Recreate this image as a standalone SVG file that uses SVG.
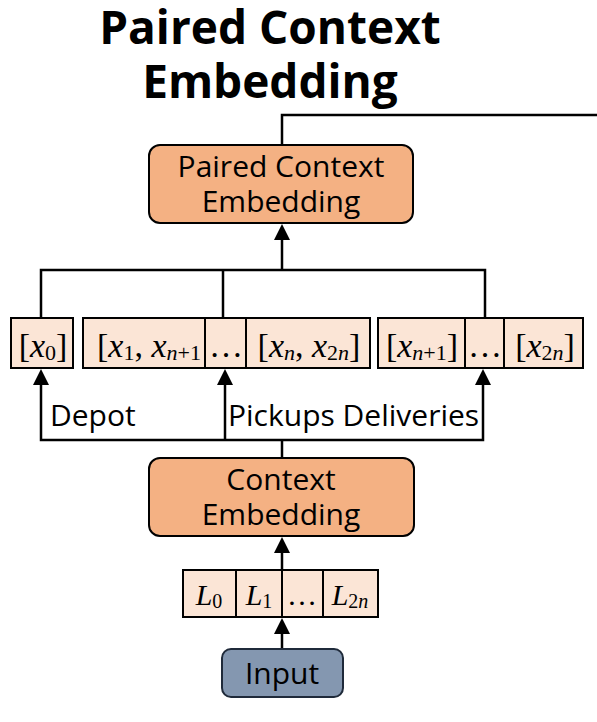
<svg xmlns="http://www.w3.org/2000/svg" width="597" height="722" viewBox="0 0 597 722">
<style>
.t{font-family:"Open Sans","Noto Sans",sans-serif;fill:#000}
.m{font-family:"Liberation Serif","DejaVu Serif",serif;font-size:34px;fill:#000}
.l{font-size:30px}
.i{font-style:italic}
.s{font-size:22px}
.ls{font-size:20px}
.big{fill:#F4B183;stroke:#000;stroke-width:2}
.cell{fill:#FBE5D6;stroke:#000;stroke-width:2}
.ln{fill:none;stroke:#000;stroke-width:2.5}
</style>
<defs>
<path id="arrow" d="M-8,16 L0,0 L8,16 Z" fill="#000"/>
</defs>
<rect width="597" height="722" fill="#fff"/>
<g id="title">
<text class="t" x="270" y="44" font-size="46" font-weight="bold" text-anchor="middle">Paired Context</text>
<text class="t" x="270" y="98" font-size="46" font-weight="bold" text-anchor="middle">Embedding</text>
</g>
<g id="connectors">
<polyline class="ln" points="282,145 282,115 597,115"/>
<line class="ln" x1="282" y1="270" x2="282" y2="236"/>
<use href="#arrow" x="282" y="224"/>
<polyline class="ln" points="41,318 41,270 485,270 485,318"/>
<line class="ln" x1="223" y1="270" x2="223" y2="318"/>
<polyline class="ln" points="41,381 41,440 483,440 483,381"/>
<line class="ln" x1="225" y1="440" x2="225" y2="381"/>
<line class="ln" x1="282" y1="440" x2="282" y2="457"/>
<use href="#arrow" x="41" y="369"/>
<use href="#arrow" x="225" y="369"/>
<use href="#arrow" x="483" y="369"/>
<line class="ln" x1="282" y1="570" x2="282" y2="549"/>
<use href="#arrow" x="282" y="537"/>
<line class="ln" x1="282" y1="649" x2="282" y2="630"/>
<use href="#arrow" x="282" y="618"/>
</g>
<g id="paired">
<rect class="big" x="149" y="145" width="264" height="78" rx="11"/>
<text class="t" x="281" y="177" font-size="30" text-anchor="middle">Paired Context</text>
<text class="t" x="281" y="212" font-size="30" text-anchor="middle">Embedding</text>
</g>
<g id="depot-cell">
<rect class="cell" x="11" y="318" width="62" height="50"/>
<text class="m" x="43" y="357" text-anchor="middle">[<tspan class="i">x</tspan><tspan class="s" dy="3">0</tspan><tspan dy="-3">]</tspan></text>
</g>
<g id="pickup-cells">
<rect class="cell" x="83" y="318" width="122" height="50"/>
<rect class="cell" x="205" y="318" width="41" height="50"/>
<rect class="cell" x="246" y="318" width="124" height="50"/>
<text class="m" x="149" y="357" text-anchor="middle">[<tspan class="i">x</tspan><tspan class="s" dy="3">1</tspan><tspan dy="-3">, </tspan><tspan class="i">x</tspan><tspan class="s i" dy="3">n</tspan><tspan class="s">+1</tspan></text>
<text class="m" x="226" y="357" text-anchor="middle" font-size="22">…</text>
<text class="m" x="309" y="357" text-anchor="middle">[<tspan class="i">x</tspan><tspan class="s i" dy="3">n</tspan><tspan dy="-3">, </tspan><tspan class="i">x</tspan><tspan class="s" dy="3">2</tspan><tspan class="s i">n</tspan><tspan dy="-3">]</tspan></text>
</g>
<g id="delivery-cells">
<rect class="cell" x="378" y="318" width="87" height="50"/>
<rect class="cell" x="465" y="318" width="39" height="50"/>
<rect class="cell" x="504" y="318" width="79" height="50"/>
<text class="m" x="422" y="357" text-anchor="middle">[<tspan class="i">x</tspan><tspan class="s i" dy="3">n</tspan><tspan class="s">+1</tspan><tspan dy="-3">]</tspan></text>
<text class="m" x="485" y="357" text-anchor="middle" font-size="22">…</text>
<text class="m" x="545" y="357" text-anchor="middle">[<tspan class="i">x</tspan><tspan class="s" dy="3">2</tspan><tspan class="s i">n</tspan><tspan dy="-3">]</tspan></text>
</g>
<g id="labels">
<text class="t" x="50" y="426" font-size="30">Depot</text>
<text class="t" x="228" y="426" font-size="30">Pickups Deliveries</text>
</g>
<g id="context">
<rect class="big" x="149" y="458" width="265" height="78" rx="11"/>
<text class="t" x="281" y="490" font-size="30" text-anchor="middle">Context</text>
<text class="t" x="281" y="525" font-size="30" text-anchor="middle">Embedding</text>
</g>
<g id="l-cells">
<rect class="cell" x="183" y="570" width="53" height="47"/>
<rect class="cell" x="236" y="570" width="46" height="47"/>
<rect class="cell" x="282" y="570" width="41" height="47"/>
<rect class="cell" x="323" y="570" width="55" height="47"/>
<text class="m l" x="209" y="605" text-anchor="middle"><tspan class="i">L</tspan><tspan class="ls" dy="3">0</tspan></text>
<text class="m l" x="259" y="605" text-anchor="middle"><tspan class="i">L</tspan><tspan class="ls" dy="3">1</tspan></text>
<text class="m l" x="302" y="605" text-anchor="middle" font-size="22">…</text>
<text class="m l" x="350" y="605" text-anchor="middle"><tspan class="i">L</tspan><tspan class="ls" dy="3">2</tspan><tspan class="ls i">n</tspan></text>
</g>
<g id="input">
<rect x="222" y="649" width="121" height="48" rx="9" fill="#8497B0" stroke="#1F2A3A" stroke-width="2"/>
<text class="t" x="282" y="684" font-size="30" text-anchor="middle">Input</text>
</g>
</svg>
